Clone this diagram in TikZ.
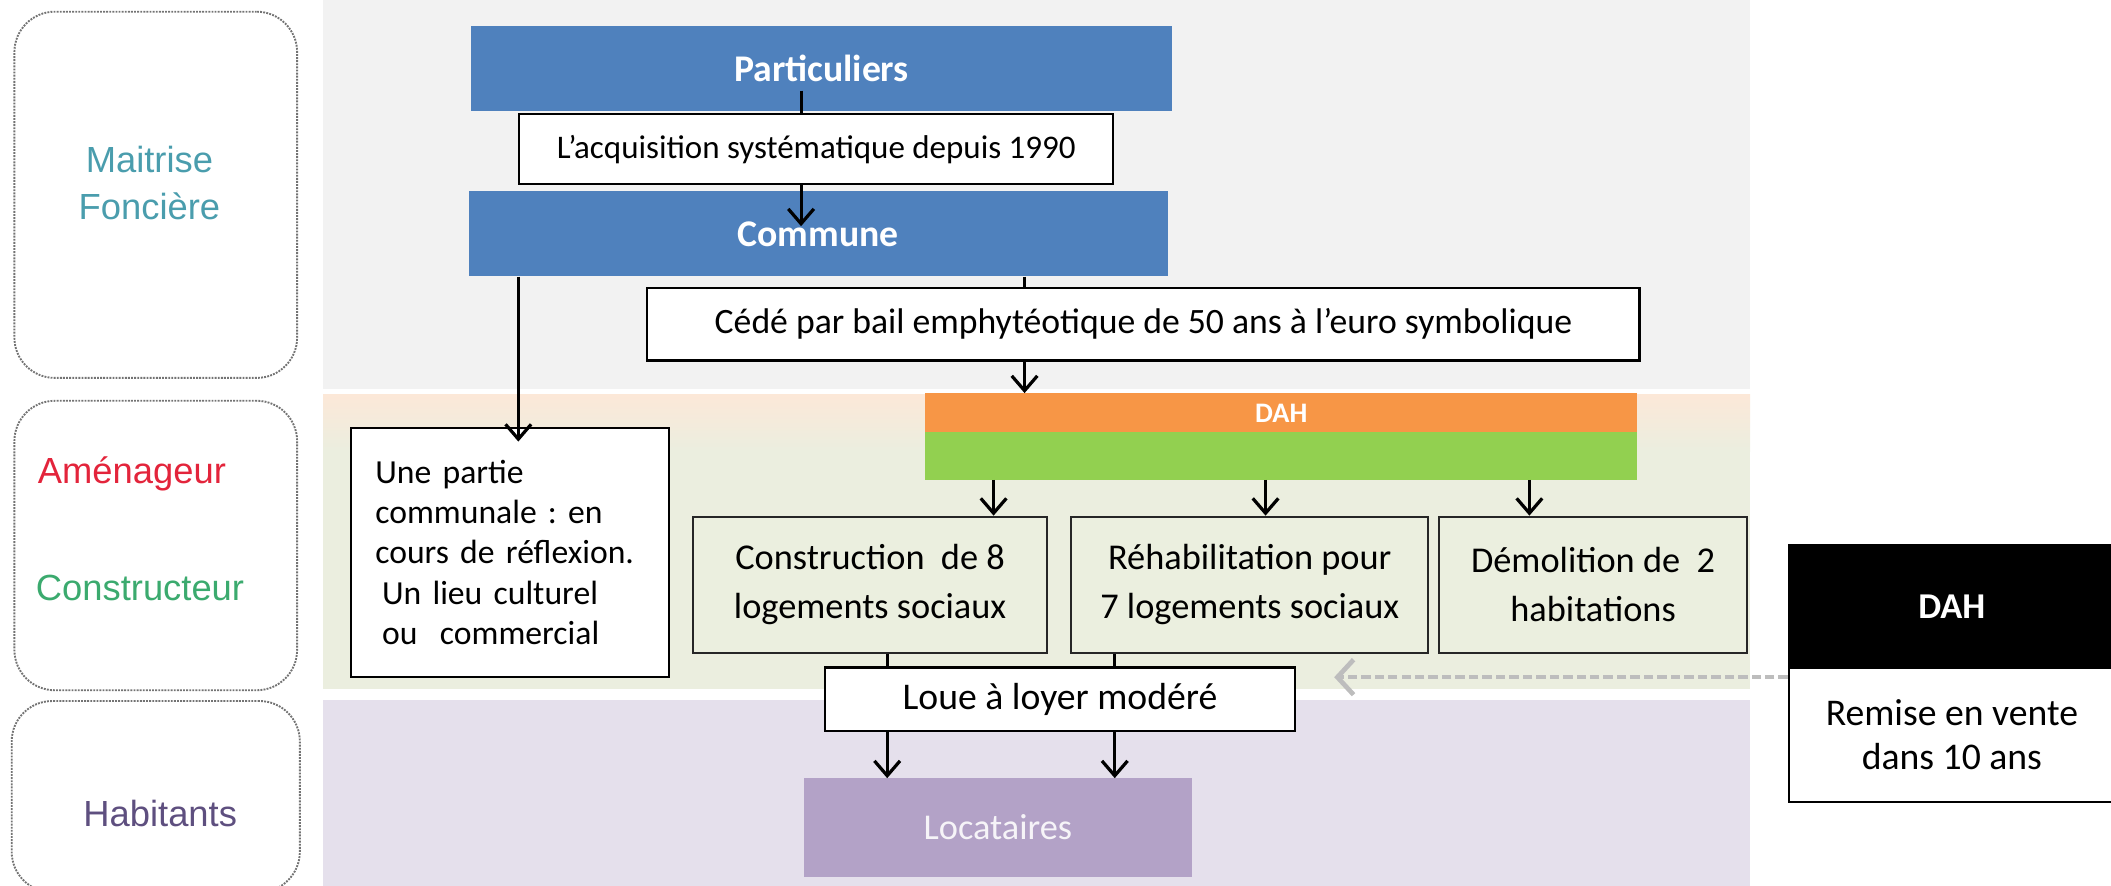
\documentclass[tikz,border=0pt]{standalone}
\usepackage{fontspec}
\setmainfont{Carlito}
\newfontfamily\arialf{Liberation Sans}
\usetikzlibrary{arrows.meta,calc}
\definecolor{bandgray}{HTML}{F2F2F2}
\definecolor{bandpeach}{HTML}{FCE8D8}
\definecolor{bandgreen}{HTML}{EBEEDF}
\definecolor{bandpurple}{HTML}{E5E0EC}
\definecolor{offblue}{HTML}{4F81BD}
\definecolor{offorange}{HTML}{F79646}
\definecolor{offgreen}{HTML}{92D050}
\definecolor{lavender}{HTML}{B3A2C7}
\definecolor{tealtxt}{HTML}{4A9DAD}
\definecolor{redtxt}{HTML}{E3243B}
\definecolor{greentxt}{HTML}{3BAA6E}
\definecolor{purpletxt}{HTML}{5E4F7F}
\definecolor{dashgray}{HTML}{BDBDBD}
\definecolor{boxgreen}{HTML}{EBEFDF}
\frenchspacing
\begin{document}
\begin{tikzpicture}[x=1pt,y=-1pt,
  lane/.style={draw=black!55, dash pattern=on 1.4pt off 0.9pt, line width=1.4pt, rounded corners=30pt, anchor=north west, inner sep=0pt},
  lanetxt/.style={font=\arialf\fontsize{27}{35}\selectfont, align=center},
  bluebox/.style={fill=offblue, draw=none, font=\bfseries\fontsize{28}{34}\selectfont, text=white, anchor=north west, inner sep=0pt},
  whitebox/.style={fill=white, draw=black, line width=1.6pt, anchor=north west, inner sep=0pt},
  actbox/.style={fill=boxgreen, draw=black!85, line width=1.6pt, anchor=north west, inner sep=0pt, align=center, font=\fontsize{27}{36}\selectfont},
  arr/.style={line width=2.2pt, -{Straight Barb[length=11pt,width=19pt,line width=2.4pt]}},
  dasharr/.style={dashgray, line width=3.2pt, dash pattern=on 7pt off 3pt, -{Straight Barb[length=12pt,width=26pt,line width=3.5pt]}},
]
\useasboundingbox (0,0) rectangle (1568,658);
% background bands
\fill[bandgray] (240,-2) rectangle (1300,289);
\fill[bandgreen] (240,293) rectangle (1300,512);
\shade[top color=bandpeach, bottom color=bandgreen] (240,293) rectangle (1300,335);
\fill[bandpurple] (240,520) rectangle (1300,662);
% lanes
\node[lane, minimum width=210pt, minimum height=272pt] (lane1) at (10,8) {};
\node[lane, minimum width=210pt, minimum height=215pt] (lane2) at (10,297) {};
\node[lane, minimum width=214pt, minimum height=142pt] (lane3) at (8,520) {};
\node[lanetxt, text=tealtxt] (t1) at (111,136) {Maitrise\\Foncière};
\node[lanetxt, text=redtxt] (t2) at (98,352) {Aménageur};
\node[lanetxt, text=greentxt] (t3) at (104,437) {Constructeur};
\node[lanetxt, text=purpletxt] (t4) at (119,604) {Habitants};
% blue boxes
\node[bluebox, minimum width=520pt, minimum height=63pt] (part) at (350,19) {Particuliers};
\node[bluebox, minimum width=519pt, minimum height=63pt] (comm) at (348,142) {Commune};
% DAH bars
\node[fill=offorange, anchor=north west, inner sep=0pt, minimum width=529pt, minimum height=29pt, text=white, font=\bfseries\fontsize{21}{24}\selectfont] (dah) at (687,292) {DAH};
\node[fill=offgreen, anchor=north west, inner sep=0pt, minimum width=529pt, minimum height=35pt] (green) at (687,321) {};
% partie communale
\node[whitebox, minimum width=236pt, minimum height=185pt, text width=200pt, inner xsep=18pt, align=left, font=\fontsize{25}{30}\selectfont] (upar) at (260,317) {Une partie\\communale : en\\cours de réflexion.\\\hspace*{5pt}Un lieu culturel\\\hspace*{5pt}ou\ \ commercial};
% action boxes
\node[actbox, minimum width=263pt, minimum height=101pt] (cons) at (514,383) {Construction\ \ de 8\\logements sociaux};
\node[actbox, minimum width=265pt, minimum height=101pt] (rehab) at (795,383) {Réhabilitation pour\\7 logements sociaux};
\node[actbox, minimum width=229pt, minimum height=101pt] (demol) at (1068,383) {Démolition de\ \ 2\\habitations};
% locataires
\node[fill=lavender, anchor=north west, inner sep=0pt, minimum width=288pt, minimum height=73pt, text=white!88!lavender, font=\fontsize{27}{32}\selectfont] (loc) at (597,578) {Locataires};
% arrows
\draw[arr] ($(part.south -| 595,0)+(0,-15)$) -- ($(comm.north -| 595,0)+(0,26)$);
\draw[arr] (comm.south -| 385,0) -- ($(upar.north -| 385,0)+(0,11)$);
\draw[arr] (comm.south -| 761,0) -- (dah.north -| 761,0);
\draw[arr] (green.south -| 738,0) -- (cons.north -| 738,0);
\draw[arr] (green.south -| 940,0) -- (rehab.north -| 940,0);
\draw[arr] (green.south -| 1136,0) -- (demol.north -| 1136,0);
\draw[arr] (cons.south -| 659,0) -- (loc.north -| 659,0);
\draw[arr] (rehab.south -| 828,0) -- (loc.north -| 828,0);
% white boxes on top of connectors
\node[whitebox, minimum width=441pt, minimum height=52pt, font=\fontsize{24.5}{28}\selectfont] (acq) at (385,84) {L’acquisition systématique depuis 1990};
\node[whitebox, minimum width=737pt, minimum height=54pt, font=\fontsize{26.5}{30}\selectfont] (cede) at (480,213) {Cédé par bail emphytéotique de 50 ans à l’euro symbolique};
\node[whitebox, minimum width=349pt, minimum height=47pt, font=\fontsize{28}{32}\selectfont] (loue) at (612,495) {Loue à loyer modéré};
% right DAH box
\node[fill=black, draw=black, line width=1.6pt, anchor=north west, inner sep=0pt, minimum width=242pt, minimum height=91pt, text=white, font=\bfseries\fontsize{27}{32}\selectfont] (rdah) at (1328,404) {DAH};
\node[whitebox, minimum width=242pt, minimum height=100pt, align=center, font=\fontsize{28}{33}\selectfont] (rdahw) at (1328,495) {Remise en vente\\dans 10 ans};
\coordinate (dashend) at (991,503);
\draw[dasharr] ($(rdahw.north west)+(0,8)$) -- (dashend);
\end{tikzpicture}
\end{document}
